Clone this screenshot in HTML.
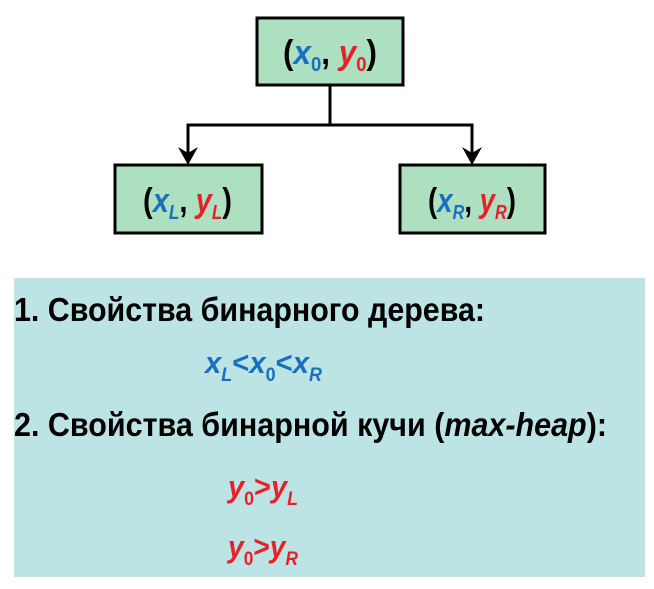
<!DOCTYPE html>
<html><head><meta charset="utf-8"><style>
html,body{margin:0;padding:0;background:#fff;}
svg{display:block;font-family:"Liberation Sans",sans-serif;font-weight:bold;}
</style></head><body>
<svg width="654" height="589" viewBox="0 0 654 589">
<g stroke="#000" stroke-width="3" fill="none">
<line x1="330" y1="86" x2="330" y2="125"/>
<polyline points="188,158 188,125 472,125 472,158"/>
</g>
<path d="M178,147 L188,165 L198,147 L188,153 Z" fill="#000"/>
<path d="M462,147 L472,165 L482,147 L472,153 Z" fill="#000"/>
<g>
<rect x="257" y="18" width="146" height="67" fill="#addfc1" stroke="#000" stroke-width="3"/>
<text x="283" y="64" font-size="34" textLength="94" lengthAdjust="spacingAndGlyphs" fill="#000">(<tspan fill="#1a6fc0" font-style="italic">x</tspan><tspan fill="#1a6fc0" font-size="20" dy="7">0</tspan><tspan dy="-7">, </tspan><tspan fill="#e8202a" font-style="italic">y</tspan><tspan fill="#e8202a" font-size="20" dy="7">0</tspan><tspan dy="-7">)</tspan></text>
</g>
<g>
<rect x="115" y="165" width="147" height="68" fill="#addfc1" stroke="#000" stroke-width="3"/>
<text x="143" y="212" font-size="34" textLength="89" lengthAdjust="spacingAndGlyphs" fill="#000">(<tspan fill="#1a6fc0" font-style="italic">x</tspan><tspan fill="#1a6fc0" font-size="20" font-style="italic" dy="7">L</tspan><tspan dy="-7">, </tspan><tspan fill="#e8202a" font-style="italic">y</tspan><tspan fill="#e8202a" font-size="20" font-style="italic" dy="7">L</tspan><tspan dy="-7">)</tspan></text>
</g>
<g>
<rect x="400" y="165" width="145" height="68" fill="#addfc1" stroke="#000" stroke-width="3"/>
<text x="428" y="212" font-size="34" textLength="88" lengthAdjust="spacingAndGlyphs" fill="#000">(<tspan fill="#1a6fc0" font-style="italic">x</tspan><tspan fill="#1a6fc0" font-size="20" font-style="italic" dy="7">R</tspan><tspan dy="-7">, </tspan><tspan fill="#e8202a" font-style="italic">y</tspan><tspan fill="#e8202a" font-size="20" font-style="italic" dy="7">R</tspan><tspan dy="-7">)</tspan></text>
</g>
<rect x="14" y="278" width="631" height="299" fill="#bde4e4"/>
<text x="14" y="321" font-size="33" textLength="471" lengthAdjust="spacingAndGlyphs" fill="#000">1. Свойства бинарного дерева:</text>
<text x="205" y="373" font-size="31" textLength="117" lengthAdjust="spacingAndGlyphs" fill="#1a6fc0"><tspan font-style="italic">x</tspan><tspan font-size="19" font-style="italic" dy="8">L</tspan><tspan dy="-8">&lt;</tspan><tspan font-style="italic">x</tspan><tspan font-size="19" dy="8">0</tspan><tspan dy="-8">&lt;</tspan><tspan font-style="italic">x</tspan><tspan font-size="19" font-style="italic" dy="8">R</tspan></text>
<text x="14" y="436" font-size="33" textLength="593" lengthAdjust="spacingAndGlyphs" fill="#000">2. Свойства бинарной кучи (<tspan font-style="italic">max-heap</tspan>):</text>
<text x="228" y="497" font-size="31" textLength="70" lengthAdjust="spacingAndGlyphs" fill="#e8202a"><tspan font-style="italic">y</tspan><tspan font-size="19" dy="8">0</tspan><tspan dy="-8">&gt;</tspan><tspan font-style="italic">y</tspan><tspan font-size="19" font-style="italic" dy="8">L</tspan></text>
<text x="228" y="557" font-size="31" textLength="70" lengthAdjust="spacingAndGlyphs" fill="#e8202a"><tspan font-style="italic">y</tspan><tspan font-size="19" dy="8">0</tspan><tspan dy="-8">&gt;</tspan><tspan font-style="italic">y</tspan><tspan font-size="19" font-style="italic" dy="8">R</tspan></text>
</svg>
</body></html>
